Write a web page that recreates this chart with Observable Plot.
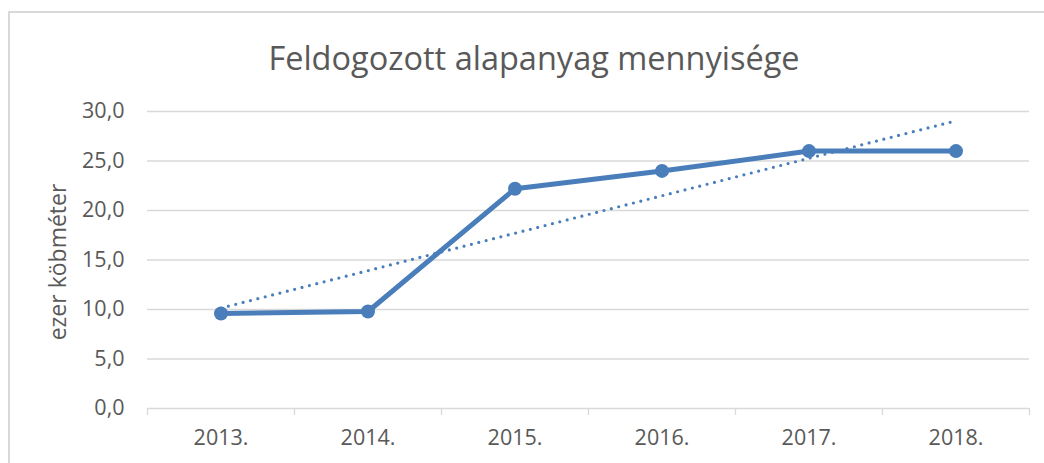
<!DOCTYPE html>
<html>
<head>
<meta charset="utf-8">
<script src="https://cdn.jsdelivr.net/npm/d3@7"></script>
<script src="https://cdn.jsdelivr.net/npm/@observablehq/plot@0.6"></script>
<style>
  html, body { margin: 0; padding: 0; background: #fff; overflow: hidden; }
  #wrap { position: relative; width: 1044px; height: 463px; overflow: hidden; background: #fff; font-family: "Open Sans", sans-serif; }
  #frame { position: absolute; left: 8px; top: 11px; width: 1100px; height: 500px; border: 2px solid #d9d9d9; box-sizing: border-box; }
  #title { position: absolute; left: 0; width: 1068px; top: 38px; text-align: center; font-size: 32.5px; color: #595959; line-height: 1.2; }
  #chart { position: absolute; left: 0; top: 0; }
</style>
</head>
<body>
<div id="wrap">
  <div id="frame"></div>
  <div id="title">Feldogozott alapanyag mennyisége</div>
  <div id="chart"></div>
</div>
<script>
const years = [2013, 2014, 2015, 2016, 2017, 2018];
const values = [9.6, 9.8, 22.2, 24.0, 26.0, 26.0];
const yTicks = [0, 5, 10, 15, 20, 25, 30];
const yLabel = "ezer köbméter";

const data = years.map((year, i) => ({year, value: values[i]}));
const boundaries = [years[0] - 0.5, ...years.map(y => y + 0.5)];
const color = "#4a7ebb";
const grid = "#d9d9d9";
const textColor = "#595959";

const chart = Plot.plot({
  width: 1044,
  height: 463,
  marginTop: 111,
  marginBottom: 55,
  marginLeft: 147,
  marginRight: 15,
  style: {fontFamily: "'Open Sans', sans-serif", fontSize: "21.5px", color: textColor, background: "transparent", overflow: "visible"},
  x: {domain: [boundaries[0], boundaries[boundaries.length - 1]]},
  y: {domain: [0, 30]},
  marks: [
    Plot.gridY(yTicks.slice(1), {stroke: grid, strokeOpacity: 1, strokeWidth: 1.3}),
    Plot.ruleY([0], {stroke: grid, strokeWidth: 1.3}),
    Plot.axisX(boundaries, {tickSize: 7, tickFormat: () => "", stroke: grid, strokeWidth: 1.3, label: null}),
    Plot.axisX(years, {tickSize: 0, tickPadding: 21, tickFormat: d => d + ".", fill: textColor, fontSize: 21.5, label: null}),
    Plot.axisY(yTicks, {tickSize: 0, tickPadding: 23, tickFormat: d => d3.format(".1f")(d).replace(".", ","), fill: textColor, fontSize: 21.5, label: null}),
    Plot.text([yLabel], {frameAnchor: "left", textAnchor: "middle", lineAnchor: "middle", rotate: -90, dx: -89, dy: 2, fontSize: 23, fill: textColor}),
    Plot.line(data, {x: "year", y: "value", stroke: color, strokeWidth: 5}),
    Plot.dot(data, {x: "year", y: "value", r: 7, fill: color}),
    Plot.linearRegressionY(data, {x: "year", y: "value", stroke: color, strokeWidth: 3.2, strokeDasharray: "0 7.6", strokeLinecap: "round", ci: 0})
  ]
});
document.getElementById("chart").appendChild(chart);
</script>
</body>
</html>
